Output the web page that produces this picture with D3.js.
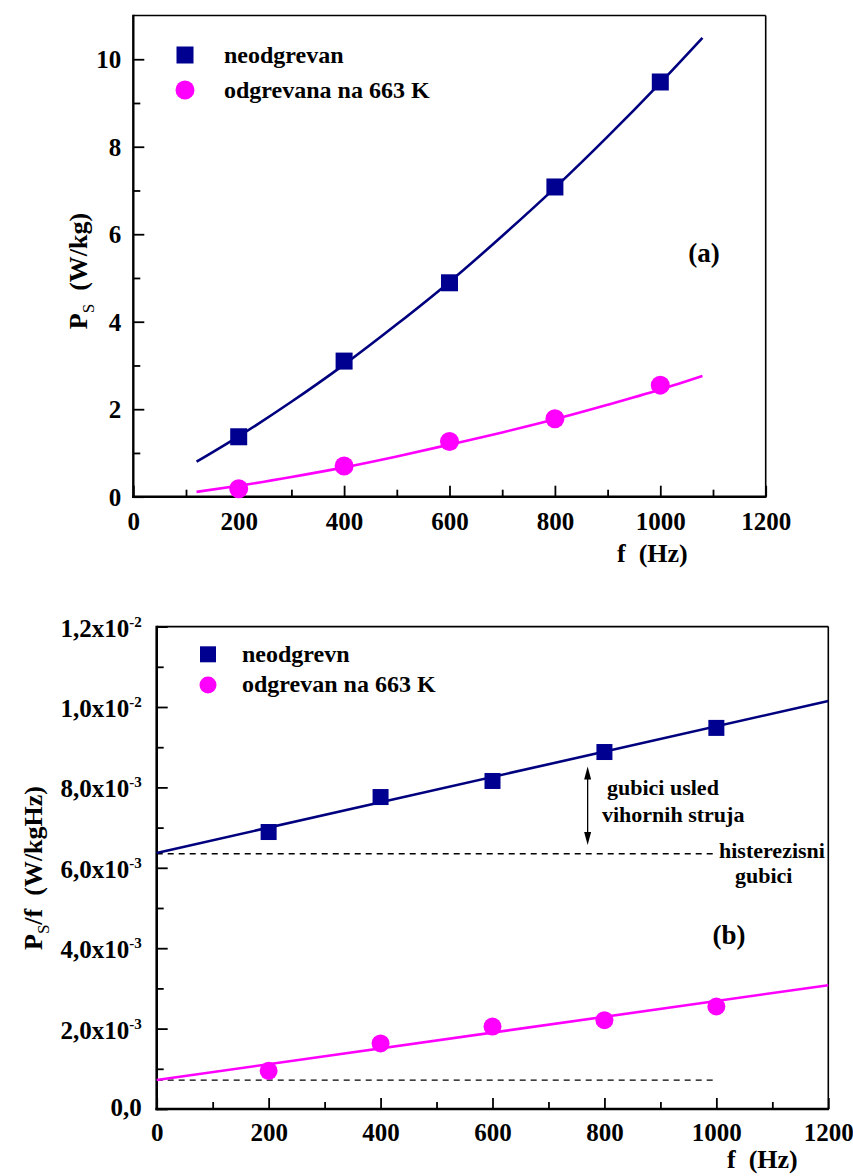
<!DOCTYPE html>
<html><head><meta charset="utf-8">
<script src="https://cdn.jsdelivr.net/npm/d3@7"></script>
<style>
html,body{margin:0;padding:0;background:#fff;}
svg{display:block;}
text{font-family:"Times New Roman","Liberation Serif",Tinos,Times,"DejaVu Serif",serif;font-weight:bold;fill:#000;white-space:pre;}
</style></head>
<body>
<script>
// ---------- data ----------
const freq = [200, 400, 600, 800, 1000];
const psNeo = [1.37, 3.10, 4.89, 7.08, 9.48];
const psOdg = [0.18, 0.70, 1.26, 1.78, 2.55];
const fitFreq = [120, 200, 300, 400, 500, 600, 700, 800, 900, 1000, 1080];
const fitNeo = [0.80, 1.38, 2.17, 3.02, 3.94, 4.91, 5.96, 7.06, 8.23, 9.46, 10.49];
const fitOdg = [0.11, 0.25, 0.45, 0.67, 0.92, 1.19, 1.47, 1.77, 2.10, 2.45, 2.76];

const pfNeo = [6.89e-3, 7.76e-3, 8.16e-3, 8.88e-3, 9.48e-3];
const pfOdg = [0.95e-3, 1.63e-3, 2.05e-3, 2.21e-3, 2.55e-3];
const lineFreq = [0, 1200];
const lineNeo = [6.37e-3, 10.15e-3];
const lineOdg = [0.72e-3, 3.08e-3];
const hystFreq = [0, 1000];
const hystNeo = [6.35e-3, 6.35e-3];
const hystOdg = [0.72e-3, 0.72e-3];
const arrowFreq = 770;
const arrowRange = [8.52e-3, 6.57e-3];

const xTicks = [0, 200, 400, 600, 800, 1000, 1200];
const xMinor = [100, 300, 500, 700, 900, 1100];
const yTicksA = [0, 2, 4, 6, 8, 10];
const yMinorA = [1, 3, 5, 7, 9];
const yTicksB = [0, 0.002, 0.004, 0.006, 0.008, 0.010, 0.012];
const yMinorB = [0.001, 0.003, 0.005, 0.007, 0.009, 0.011];
const yLabelB = ["0,0", "2,0x10", "4,0x10", "6,0x10", "8,0x10", "1,0x10", "1,2x10"];
const yExpB = ["", "-3", "-3", "-3", "-3", "-2", "-2"];

const legendA = ["neodgrevan", "odgrevana na 663 K"];
const legendB = ["neodgrevn", "odgrevan na 663 K"];

const NAVY = "#000090", NAVY_LINE = "#00007f", MAG = "#ff00ff";
const FONT = '"Times New Roman","Liberation Serif",Tinos,Times,"DejaVu Serif",serif';

const svg = d3.select("body").append("svg").attr("width", 853).attr("height", 1176);

function drawFrame(g, x, y, thickL, thickR) {
  const [x0, x1] = x.range(), [y0, y1] = y.range();
  g.append("line").attr("x1", x1).attr("x2", x1).attr("y1", y1).attr("y2", y0).attr("stroke", "#000").attr("stroke-width", thickR);
  g.append("line").attr("x1", x0).attr("x2", x1).attr("y1", y1).attr("y2", y1).attr("stroke", "#000").attr("stroke-width", thickR);
  g.append("line").attr("x1", x0).attr("x2", x0).attr("y1", y1 - thickR/2).attr("y2", y0 + thickL/2).attr("stroke", "#000").attr("stroke-width", thickL);
  g.append("line").attr("x1", x0 - thickL/2).attr("x2", x1 + thickR/2).attr("y1", y0).attr("y2", y0).attr("stroke", "#000").attr("stroke-width", thickL);
}

function styleAxis(sel, fs) {
  sel.select(".domain").remove();
  sel.selectAll(".tick line").attr("stroke", "#000").attr("stroke-width", 1.8);
  sel.attr("font-family", null).attr("font-size", null);
  sel.selectAll("text").style("font-size", fs + "px").style("font-family", FONT).style("font-weight", "bold").attr("fill", "#000");
}

// ================= chart (a) =================
{
  const x = d3.scaleLinear().domain([0, 1200]).range([133.3, 765.7]);
  const y = d3.scaleLinear().domain([0, 11]).range([496.7, 15.5]);
  const g = svg.append("g");

  const gx = g.append("g").attr("transform", `translate(0,${y(0)})`)
    .call(d3.axisBottom(x).tickValues(xTicks).tickFormat(d => d).tickSizeInner(-11).tickSizeOuter(0).tickPadding(16));
  styleAxis(gx, 25);
  gx.selectAll("text").attr("dy", "0.71em");
  const gxm = g.append("g").attr("transform", `translate(0,${y(0)})`)
    .call(d3.axisBottom(x).tickValues(xMinor).tickFormat("").tickSizeInner(-7).tickSizeOuter(0));
  styleAxis(gxm, 25);

  const gy = g.append("g").attr("transform", `translate(${x(0)},0)`)
    .call(d3.axisLeft(y).tickValues(yTicksA).tickFormat(d => d).tickSizeInner(-11).tickSizeOuter(0).tickPadding(12));
  styleAxis(gy, 25);
  gy.selectAll("text").attr("dy", "0.34em");
  const gym = g.append("g").attr("transform", `translate(${x(0)},0)`)
    .call(d3.axisLeft(y).tickValues(yMinorA).tickFormat("").tickSizeInner(-7).tickSizeOuter(0));
  styleAxis(gym, 25);

  drawFrame(g, x, y, 2.4, 1.6);

  const line = d3.line().x(d => x(d[0])).y(d => y(d[1])).curve(d3.curveMonotoneX);
  g.append("path").attr("d", line(fitFreq.map((f, i) => [f, fitNeo[i]]))).attr("fill", "none").attr("stroke", NAVY_LINE).attr("stroke-width", 2.6);
  g.append("path").attr("d", line(fitFreq.map((f, i) => [f, fitOdg[i]]))).attr("fill", "none").attr("stroke", MAG).attr("stroke-width", 2.6);

  const S = 17, R = 9.5;
  g.selectAll(".sqA").data(freq).enter().append("rect")
    .attr("x", (d) => x(d) - S/2).attr("y", (d, i) => y(psNeo[i]) - S/2).attr("width", S).attr("height", S).attr("fill", NAVY);
  g.selectAll(".ciA").data(freq).enter().append("circle")
    .attr("cx", d => x(d)).attr("cy", (d, i) => y(psOdg[i])).attr("r", R).attr("fill", MAG);

  g.append("rect").attr("x", 185 - S/2).attr("y", 55 - S/2).attr("width", S).attr("height", S).attr("fill", NAVY);
  g.append("circle").attr("cx", 185).attr("cy", 90).attr("r", R).attr("fill", MAG);
  g.append("text").attr("x", 224).attr("y", 63).style("font-size", "24px").text(legendA[0]);
  g.append("text").attr("x", 224).attr("y", 97.5).style("font-size", "24px").text(legendA[1]);

  g.append("text").attr("x", 704).attr("y", 262).attr("text-anchor", "middle").style("font-size", "27px").text("(a)");

  g.append("text").attr("x", 617).attr("y", 562).style("font-size", "26px").text("f  (Hz)");
  const yt = g.append("text").attr("transform", "translate(87,271) rotate(-90)").attr("text-anchor", "middle").style("font-size", "26px");
  yt.append("tspan").text("P");
  yt.append("tspan").attr("dy", 7).style("font-size", "17px").style("font-weight", "normal").text("S");
  yt.append("tspan").attr("dy", -7).text("  (W/kg)");
}

// ================= chart (b) =================
{
  const x = d3.scaleLinear().domain([0, 1200]).range([156.7, 828.3]);
  const y = d3.scaleLinear().domain([0, 0.012]).range([1109, 626.6]);
  const g = svg.append("g");

  const gx = g.append("g").attr("transform", `translate(0,${y(0)})`)
    .call(d3.axisBottom(x).tickValues(xTicks).tickFormat(d => d).tickSizeInner(-11).tickSizeOuter(0).tickPadding(14));
  styleAxis(gx, 25);
  gx.selectAll("text").attr("dy", "0.71em");
  const gxm = g.append("g").attr("transform", `translate(0,${y(0)})`)
    .call(d3.axisBottom(x).tickValues(xMinor).tickFormat("").tickSizeInner(-7).tickSizeOuter(0));
  styleAxis(gxm, 25);

  const gy = g.append("g").attr("transform", `translate(${x(0)},0)`)
    .call(d3.axisLeft(y).tickValues(yTicksB).tickFormat("").tickSizeInner(-11).tickSizeOuter(0));
  styleAxis(gy, 25);
  const gym = g.append("g").attr("transform", `translate(${x(0)},0)`)
    .call(d3.axisLeft(y).tickValues(yMinorB).tickFormat("").tickSizeInner(-7).tickSizeOuter(0));
  styleAxis(gym, 25);

  yTicksB.forEach((v, i) => {
    const t = g.append("text").attr("x", x(0) - 15).attr("y", y(v) + (i === 0 ? 7 : 10)).attr("text-anchor", "end").style("font-size", "25px");
    t.append("tspan").text(yLabelB[i]);
    if (yExpB[i]) t.append("tspan").attr("dy", -10).style("font-size", "15px").text(yExpB[i]);
  });

  drawFrame(g, x, y, 2.6, 1.6);

  const line = d3.line().x(d => x(d[0])).y(d => y(d[1]));
  g.append("path").attr("d", line(hystFreq.map((f, i) => [f, hystNeo[i]]))).attr("fill", "none").attr("stroke", "#000").attr("stroke-width", 1.3).attr("stroke-dasharray", "6,5");
  g.append("path").attr("d", line(hystFreq.map((f, i) => [f, hystOdg[i]]))).attr("fill", "none").attr("stroke", "#000").attr("stroke-width", 1.3).attr("stroke-dasharray", "6,5");

  g.append("path").attr("d", line(lineFreq.map((f, i) => [f, lineNeo[i]]))).attr("fill", "none").attr("stroke", NAVY_LINE).attr("stroke-width", 2.6);
  g.append("path").attr("d", line(lineFreq.map((f, i) => [f, lineOdg[i]]))).attr("fill", "none").attr("stroke", MAG).attr("stroke-width", 2.6);

  const S = 16, R = 9;
  g.selectAll(".sqB").data(freq).enter().append("rect")
    .attr("x", d => x(d) - S/2).attr("y", (d, i) => y(pfNeo[i]) - S/2).attr("width", S).attr("height", S).attr("fill", NAVY);
  g.selectAll(".ciB").data(freq).enter().append("circle")
    .attr("cx", d => x(d)).attr("cy", (d, i) => y(pfOdg[i])).attr("r", R).attr("fill", MAG);

  const ax = x(arrowFreq), ay1 = y(arrowRange[0]), ay2 = y(arrowRange[1]);
  g.append("line").attr("x1", ax).attr("x2", ax).attr("y1", ay1 + 8).attr("y2", ay2 - 8).attr("stroke", "#000").attr("stroke-width", 1.3);
  g.append("path").attr("d", `M${ax},${ay1} L${ax - 3.5},${ay1 + 13} L${ax + 3.5},${ay1 + 13} Z`).attr("fill", "#000");
  g.append("path").attr("d", `M${ax},${ay2} L${ax - 3.5},${ay2 - 13} L${ax + 3.5},${ay2 - 13} Z`).attr("fill", "#000");

  g.append("text").attr("x", 607).attr("y", 795).style("font-size", "22px").text("gubici usled");
  g.append("text").attr("x", 602).attr("y", 821.5).style("font-size", "22px").text("vihornih struja");
  g.append("text").attr("x", 719).attr("y", 858).style("font-size", "22px").text("histerezisni");
  g.append("text").attr("x", 735).attr("y", 883).style("font-size", "22px").text("gubici");

  g.append("text").attr("x", 729).attr("y", 944).attr("text-anchor", "middle").style("font-size", "27px").text("(b)");

  g.append("rect").attr("x", 208 - S/2).attr("y", 654.3 - S/2).attr("width", S).attr("height", S).attr("fill", NAVY);
  g.append("circle").attr("cx", 208).attr("cy", 685).attr("r", 8.5).attr("fill", MAG);
  g.append("text").attr("x", 242).attr("y", 662).style("font-size", "24px").text(legendB[0]);
  g.append("text").attr("x", 242).attr("y", 692).style("font-size", "24px").text(legendB[1]);

  g.append("text").attr("x", 727).attr("y", 1168).style("font-size", "26px").text("f  (Hz)");
  const yt = g.append("text").attr("transform", "translate(42,868) rotate(-90)").attr("text-anchor", "middle").style("font-size", "26px");
  yt.append("tspan").text("P");
  yt.append("tspan").attr("dy", 7).style("font-size", "17px").style("font-weight", "normal").text("S");
  yt.append("tspan").attr("dy", -7).text("/f  (W/kgHz)");
}
</script>
</body></html>
